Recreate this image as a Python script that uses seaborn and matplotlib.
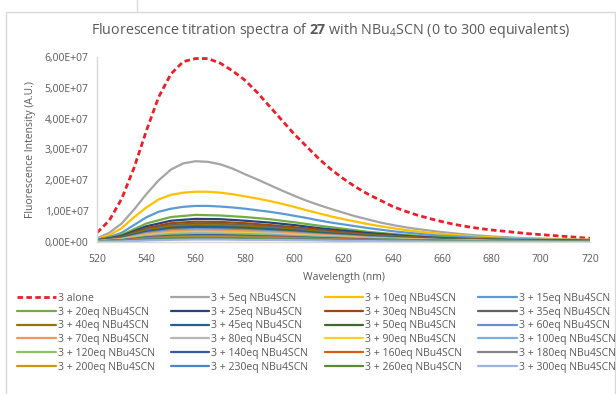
import numpy as np
import pandas as pd
import matplotlib.pyplot as plt
import seaborn as sns
from matplotlib.lines import Line2D
from matplotlib.patches import Rectangle
from matplotlib.ticker import FuncFormatter

# wavelength grids (nm): 5 nm for the big curves, 10 nm for the small ones
wl_fine = list(range(520, 721, 5))
wavelength = list(range(520, 721, 10))

# intensities in units of 1E+07
alone = [0.3, 0.7, 1.4, 2.4, 3.6, 4.7, 5.45, 5.85, 5.95, 5.95, 5.8, 5.55, 5.25, 4.85,
         4.4, 3.95, 3.5, 3.1, 2.7, 2.35, 2.05, 1.78, 1.55, 1.35, 1.15, 1.0, 0.87,
         0.76, 0.66, 0.57, 0.5, 0.44, 0.39, 0.35, 0.31, 0.27, 0.24, 0.21, 0.18, 0.15, 0.12]
eq5 = [0.12, 0.3, 0.6, 1.05, 1.55, 2.0, 2.35, 2.55, 2.62, 2.6, 2.52, 2.38, 2.2, 2.03,
       1.85, 1.67, 1.5, 1.34, 1.2, 1.07, 0.95, 0.83, 0.73, 0.63, 0.55, 0.48, 0.42,
       0.37, 0.32, 0.28, 0.24, 0.21, 0.18, 0.16, 0.14, 0.12, 0.11, 0.1, 0.09, 0.08, 0.08]
eq10 = [0.1, 0.22, 0.45, 0.8, 1.12, 1.38, 1.53, 1.6, 1.63, 1.63, 1.6, 1.55, 1.48, 1.41,
        1.33, 1.24, 1.14, 1.03, 0.93, 0.83, 0.74, 0.66, 0.58, 0.51, 0.45, 0.39, 0.34,
        0.3, 0.26, 0.23, 0.2, 0.17, 0.15, 0.13, 0.12, 0.11, 0.1, 0.09, 0.08, 0.07, 0.07]
eq15 = [0.08, 0.16, 0.3, 0.55, 0.8, 0.98, 1.08, 1.14, 1.17, 1.17, 1.15, 1.12, 1.08, 1.03,
        0.98, 0.92, 0.85, 0.78, 0.7, 0.63, 0.57, 0.51, 0.45, 0.4, 0.35, 0.31, 0.27,
        0.23, 0.2, 0.18, 0.16, 0.14, 0.12, 0.11, 0.1, 0.09, 0.08, 0.075, 0.07, 0.065, 0.06]
eq20 = [0.06, 0.23, 0.6, 0.81, 0.88, 0.86, 0.81, 0.74, 0.64, 0.53, 0.43,
        0.33, 0.26, 0.2, 0.15, 0.12, 0.09, 0.07, 0.06, 0.05, 0.04]
eq25 = [0.05, 0.2, 0.51, 0.69, 0.75, 0.74, 0.69, 0.63, 0.55, 0.45, 0.37,
        0.29, 0.23, 0.17, 0.13, 0.1, 0.08, 0.06, 0.05, 0.05, 0.04]
eq30 = [0.05, 0.17, 0.45, 0.61, 0.66, 0.65, 0.61, 0.55, 0.48, 0.4, 0.32,
        0.25, 0.2, 0.15, 0.11, 0.09, 0.07, 0.06, 0.05, 0.04, 0.03]
eq35 = [0.04, 0.16, 0.41, 0.55, 0.6, 0.59, 0.55, 0.5, 0.44, 0.36, 0.29,
        0.23, 0.18, 0.14, 0.1, 0.08, 0.06, 0.05, 0.04, 0.04, 0.03]
eq40 = [0.04, 0.14, 0.37, 0.51, 0.55, 0.54, 0.51, 0.46, 0.4, 0.33, 0.27,
        0.21, 0.17, 0.13, 0.09, 0.08, 0.06, 0.05, 0.04, 0.03, 0.03]
eq45 = [0.04, 0.13, 0.34, 0.46, 0.5, 0.49, 0.46, 0.42, 0.37, 0.3, 0.25,
        0.19, 0.15, 0.12, 0.09, 0.07, 0.05, 0.04, 0.04, 0.03, 0.03]
eq50 = [0.03, 0.12, 0.31, 0.42, 0.46, 0.45, 0.42, 0.39, 0.34, 0.28, 0.23,
        0.17, 0.14, 0.11, 0.08, 0.06, 0.05, 0.04, 0.03, 0.03, 0.02]
eq60 = [0.03, 0.11, 0.29, 0.39, 0.42, 0.41, 0.39, 0.35, 0.31, 0.25, 0.21,
        0.16, 0.13, 0.1, 0.07, 0.06, 0.04, 0.04, 0.03, 0.03, 0.02]
eq70 = [0.03, 0.1, 0.26, 0.35, 0.38, 0.37, 0.35, 0.32, 0.28, 0.23, 0.19,
        0.14, 0.11, 0.09, 0.06, 0.05, 0.04, 0.03, 0.03, 0.02, 0.02]
eq80 = [0.02, 0.09, 0.23, 0.31, 0.34, 0.33, 0.31, 0.29, 0.25, 0.2, 0.17,
        0.13, 0.1, 0.08, 0.06, 0.05, 0.03, 0.03, 0.02, 0.02, 0.02]
eq90 = [0.02, 0.08, 0.21, 0.29, 0.31, 0.3, 0.29, 0.26, 0.23, 0.19, 0.15,
        0.12, 0.09, 0.07, 0.05, 0.04, 0.03, 0.03, 0.02, 0.02, 0.02]
eq100 = [0.02, 0.07, 0.19, 0.26, 0.28, 0.27, 0.26, 0.24, 0.2, 0.17, 0.14,
         0.11, 0.08, 0.06, 0.05, 0.04, 0.03, 0.02, 0.02, 0.02, 0.01]
eq120 = [0.02, 0.07, 0.17, 0.23, 0.25, 0.25, 0.23, 0.21, 0.18, 0.15, 0.12,
         0.1, 0.08, 0.06, 0.04, 0.04, 0.03, 0.02, 0.02, 0.02, 0.01]
eq140 = [0.02, 0.06, 0.15, 0.2, 0.22, 0.22, 0.2, 0.18, 0.16, 0.13, 0.11,
         0.08, 0.07, 0.05, 0.04, 0.03, 0.02, 0.02, 0.02, 0.01, 0.01]
eq160 = [0.01, 0.05, 0.13, 0.17, 0.19, 0.19, 0.17, 0.16, 0.14, 0.11, 0.09,
         0.07, 0.06, 0.04, 0.03, 0.03, 0.02, 0.02, 0.01, 0.01, 0.01]
eq180 = [0.01, 0.04, 0.12, 0.16, 0.17, 0.17, 0.16, 0.14, 0.12, 0.1, 0.08,
         0.06, 0.05, 0.04, 0.03, 0.02, 0.02, 0.01, 0.01, 0.01, 0.01]
eq200 = [0.01, 0.04, 0.1, 0.14, 0.15, 0.15, 0.14, 0.13, 0.11, 0.09, 0.07,
         0.06, 0.05, 0.03, 0.03, 0.02, 0.02, 0.01, 0.01, 0.01, 0.01]
eq230 = [0.01, 0.03, 0.09, 0.12, 0.13, 0.13, 0.12, 0.11, 0.09, 0.08, 0.06,
         0.05, 0.04, 0.03, 0.02, 0.02, 0.01, 0.01, 0.01, 0.01, 0.01]
eq260 = [0.01, 0.03, 0.07, 0.1, 0.11, 0.11, 0.1, 0.09, 0.08, 0.07, 0.05,
         0.04, 0.03, 0.03, 0.02, 0.02, 0.01, 0.01, 0.01, 0.01, 0.01]
eq300 = [0.01, 0.02, 0.05, 0.07, 0.08, 0.08, 0.07, 0.07, 0.06, 0.05, 0.04,
         0.03, 0.02, 0.02, 0.01, 0.01, 0.01, 0.01, 0.01, 0.0, 0.0]

labels = ["3 alone"] + [f"3 + {n}eq NBu4SCN" for n in
                        [5, 10, 15, 20, 25, 30, 35, 40, 45, 50, 60, 70, 80,
                         90, 100, 120, 140, 160, 180, 200, 230, 260, 300]]
series = [alone, eq5, eq10, eq15, eq20, eq25, eq30, eq35, eq40, eq45, eq50,
          eq60, eq70, eq80, eq90, eq100, eq120, eq140, eq160, eq180, eq200,
          eq230, eq260, eq300]
colors = ["#E8202A", "#A5A5A5", "#FFC000", "#5B9BD5", "#70AD47", "#264478",
          "#9E480E", "#636363", "#997300", "#255E91", "#43682B", "#698ED0",
          "#F1975A", "#B7B7B7", "#FFCD33", "#7CAFDD", "#8CC168", "#335AA1",
          "#D26012", "#848484", "#CC9A00", "#4A86C5", "#5A8A38", "#9DB4E2"]

sns.set_style("white")
plt.rcParams['font.family'] = ['Open Sans', 'DejaVu Sans']
plt.rcParams['mathtext.fontset'] = 'custom'
plt.rcParams['mathtext.rm'] = 'Open Sans'
plt.rcParams['mathtext.bf'] = 'Open Sans:bold'
grey = "#595959"

fig = plt.figure(figsize=(6.16, 3.94), dpi=100)
ax = fig.add_axes([97 / 616, 1 - 242 / 394, 493 / 616, 185 / 394])

# chart frame like the spreadsheet export
fig.add_artist(Rectangle((6 / 616, -0.1), 609 / 616, 1.1 - 12 / 394,
                         transform=fig.transFigure, fill=False,
                         edgecolor="#D9D9D9", lw=1))
fig.add_artist(Line2D([137 / 616, 137 / 616], [1, 1 - 12 / 394],
                      transform=fig.transFigure, color="#D9D9D9", lw=1))

for lab, vals, col in zip(labels, series, colors):
    x = wl_fine if len(vals) == len(wl_fine) else wavelength
    df = pd.DataFrame({"wl": x, "val": np.array(vals) * 1e7})
    sns.lineplot(data=df, x="wl", y="val", ax=ax, color=col,
                 lw=2.0 if lab == "3 alone" else 1.6,
                 linestyle=(0, (2, 1.2)) if lab == "3 alone" else "-",
                 label=lab, legend=False)

ax.set_xlim(520, 720)
ax.set_ylim(0, 6e7)
ax.set_xticks(range(520, 721, 20))
ax.set_yticks(np.arange(0, 6.01e7, 1e7))
ax.yaxis.set_major_formatter(FuncFormatter(lambda v, p: f"{v:.2E}".replace(".", ",")))
ax.tick_params(labelsize=7.5, colors=grey, length=0)
ax.tick_params(axis="x", pad=9)
ax.tick_params(axis="y", pad=6)
for s in ["top", "right"]:
    ax.spines[s].set_visible(False)
for s in ["left", "bottom"]:
    ax.spines[s].set_color("#D9D9D9")
    ax.spines[s].set_linewidth(1)
ax.set_xlabel("Wavelength (nm)", fontsize=7.5, color=grey, labelpad=5)
ax.set_ylabel("Fluorescence Intensity (A.U.)", fontsize=7.5, color=grey, labelpad=6)

fig.text(0.537, 1 - 31 / 394,
         r"Fluorescence titration spectra of $\mathbf{27}$ with NBu$_4$SCN (0 to 300 equivalents)",
         ha="center", va="center", fontsize=10.3, color=grey)

# legend reads row by row, matplotlib fills column by column
handles = [Line2D([], [], color=c, lw=2.0 if i == 0 else 1.6,
                  linestyle=(0, (2, 1.2)) if i == 0 else "-")
           for i, c in enumerate(colors)]
order = [r * 4 + c for c in range(4) for r in range(6)]
fig.legend([handles[i] for i in order], [labels[i] for i in order],
           loc="upper left", bbox_to_anchor=(17 / 616, 1 - 293 / 394),
           ncol=4, frameon=False, fontsize=7.5, labelcolor=grey,
           handlelength=3.7, handletextpad=0.2, columnspacing=1.55,
           labelspacing=0.26, borderaxespad=0, borderpad=0)

fig.savefig("out.png", dpi=100)
